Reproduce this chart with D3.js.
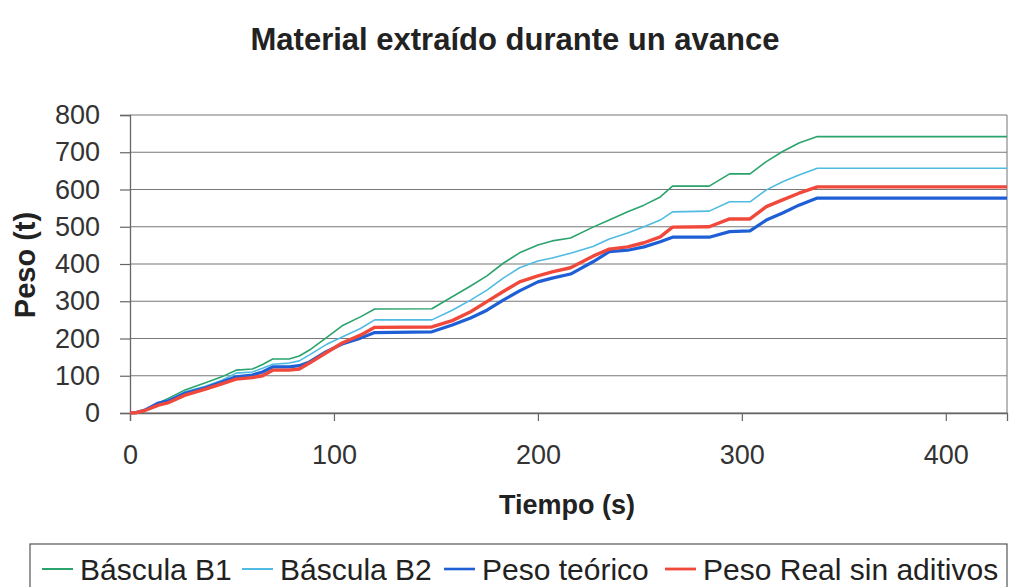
<!DOCTYPE html>
<html>
<head>
<meta charset="utf-8">
<script src="https://cdn.jsdelivr.net/npm/d3@7"></script>
<style>
  html, body { margin: 0; padding: 0; background: #ffffff; }
  svg { display: block; font-family: "Liberation Sans", Arial, sans-serif; }
</style>
</head>
<body>
<svg id="chart" width="1024" height="587"></svg>
<script>
// Sample times (s)
const tiempo = [0, 3, 7, 14, 19, 27, 37, 45, 52, 60, 65, 70, 78, 83, 88, 96, 104, 113, 120,
  148, 158, 167, 175, 183, 191, 200, 207, 216, 227, 235, 244, 252, 260, 266,
  284, 294, 304, 312, 320, 328, 337, 430];

// Weight (t) per series
const basculaB1 = [0, 1, 8, 27, 40, 62, 81, 97, 115, 118, 130, 145, 145, 153, 169, 201, 234, 258, 279,
  280, 312, 341, 368, 402, 430, 451, 462, 470, 499, 518, 540, 558, 580, 609,
  609, 642, 642, 675, 702, 725, 742, 742];
const basculaB2 = [0, 1, 7, 25, 35, 57, 72, 88, 107, 110, 120, 131, 134, 140, 156, 183, 204, 227, 250,
  250, 276, 303, 330, 362, 390, 408, 416, 429, 447, 467, 483, 500, 518, 540,
  542, 567, 567, 599, 621, 639, 657, 657];
const pesoTeorico = [0, 1, 7, 27, 33, 53, 68, 83, 97, 102, 110, 124, 124, 127, 137, 164, 185, 201, 216,
  218, 236, 255, 276, 303, 328, 352, 362, 373, 406, 433, 437, 446, 460, 472,
  472, 487, 489, 518, 537, 558, 577, 577];
const pesoReal = [0, 1, 6, 21, 28, 48, 64, 78, 91, 95, 100, 115, 115, 118, 134, 161, 188, 209, 230,
  231, 248, 272, 299, 326, 352, 368, 379, 390, 421, 440, 446, 457, 473, 499,
  500, 521, 521, 554, 572, 590, 607, 607];

const seriesNames = ["Báscula B1", "Báscula B2", "Peso teórico", "Peso Real sin aditivos"];
const yTicks = [0, 100, 200, 300, 400, 500, 600, 700, 800];
const xTicks = [0, 100, 200, 300, 400];

const series = [
  { name: seriesNames[0], values: basculaB1, color: "#2aa36c", width: 1.6 },
  { name: seriesNames[1], values: basculaB2, color: "#4fbbe2", width: 1.6 },
  { name: seriesNames[2], values: pesoTeorico, color: "#1f5fd6", width: 3.2 },
  { name: seriesNames[3], values: pesoReal, color: "#f0493b", width: 3.4 }
];

const svg = d3.select("#chart");
const plot = { left: 130, right: 1007, top: 115, bottom: 413 };

const x = d3.scaleLinear().domain([0, 430]).range([plot.left, plot.right]);
const y = d3.scaleLinear().domain([0, 800]).range([plot.bottom, plot.top]);

// Horizontal gridlines
svg.append("g")
  .selectAll("line")
  .data(yTicks)
  .join("line")
  .attr("x1", plot.left).attr("x2", plot.right)
  .attr("y1", d => y(d)).attr("y2", d => y(d))
  .attr("stroke", "#777").attr("stroke-width", 1.2);

// Right border of the plot area
svg.append("line")
  .attr("x1", plot.right).attr("x2", plot.right)
  .attr("y1", plot.top).attr("y2", plot.bottom)
  .attr("stroke", "#8a8a8a").attr("stroke-width", 1.2);

// Y axis
const yAxis = svg.append("g")
  .attr("transform", `translate(${plot.left},0)`)
  .call(d3.axisLeft(y).tickValues(yTicks).tickSize(10).tickPadding(20).tickFormat(d3.format("d")));
yAxis.select(".domain").attr("stroke", "#666").attr("stroke-width", 1.3);
yAxis.selectAll(".tick line").attr("stroke", "#666").attr("stroke-width", 1.2);
yAxis.selectAll("text")
  .attr("font-size", 27).attr("fill", "#333")
  .attr("font-family", "Liberation Sans, Arial, sans-serif");

// X axis
const xAxis = svg.append("g")
  .attr("transform", `translate(0,${plot.bottom})`)
  .call(d3.axisBottom(x).tickValues(xTicks).tickSize(8).tickPadding(24).tickFormat(d3.format("d")));
xAxis.select(".domain").attr("stroke", "#666").attr("stroke-width", 1.3);
xAxis.selectAll(".tick line").attr("stroke", "#666").attr("stroke-width", 1.2);
xAxis.selectAll("text")
  .attr("font-size", 27).attr("fill", "#333")
  .attr("font-family", "Liberation Sans, Arial, sans-serif");

// Series lines
const line = d3.line()
  .x((d, i) => x(tiempo[i]))
  .y(d => y(d));

svg.append("g")
  .selectAll("path")
  .data(series)
  .join("path")
  .attr("d", d => line(d.values))
  .attr("fill", "none")
  .attr("stroke", d => d.color)
  .attr("stroke-width", d => d.width)
  .attr("stroke-linejoin", "round");

// Title
svg.append("text")
  .attr("x", 515).attr("y", 50)
  .attr("text-anchor", "middle")
  .attr("font-size", 31).attr("font-weight", "bold").attr("fill", "#222")
  .text("Material extraído durante un avance");

// Axis titles
svg.append("text")
  .attr("x", 567).attr("y", 514)
  .attr("text-anchor", "middle")
  .attr("font-size", 27).attr("font-weight", "bold").attr("fill", "#222")
  .text("Tiempo (s)");

svg.append("text")
  .attr("transform", "translate(35,265) rotate(-90)")
  .attr("text-anchor", "middle")
  .attr("font-size", 29).attr("font-weight", "bold").attr("fill", "#222")
  .text("Peso (t)");

// Legend
const legend = svg.append("g");
legend.append("rect")
  .attr("x", 30).attr("y", 544).attr("width", 977).attr("height", 60)
  .attr("fill", "#fff").attr("stroke", "#555").attr("stroke-width", 1.2);

const legendTextX = [80, 280, 482, 703];
const item = legend.selectAll("g.item")
  .data(series)
  .join("g")
  .attr("class", "item")
  .attr("transform", (d, i) => `translate(${legendTextX[i]},0)`);
item.append("line")
  .attr("x1", -38).attr("x2", -7).attr("y1", 569).attr("y2", 569)
  .attr("stroke", d => d.color)
  .attr("stroke-width", d => Math.max(2, d.width - 0.6));
item.append("text")
  .attr("x", 0).attr("y", 580)
  .attr("font-size", 30).attr("fill", "#222")
  .text(d => d.name);
</script>
</body>
</html>
